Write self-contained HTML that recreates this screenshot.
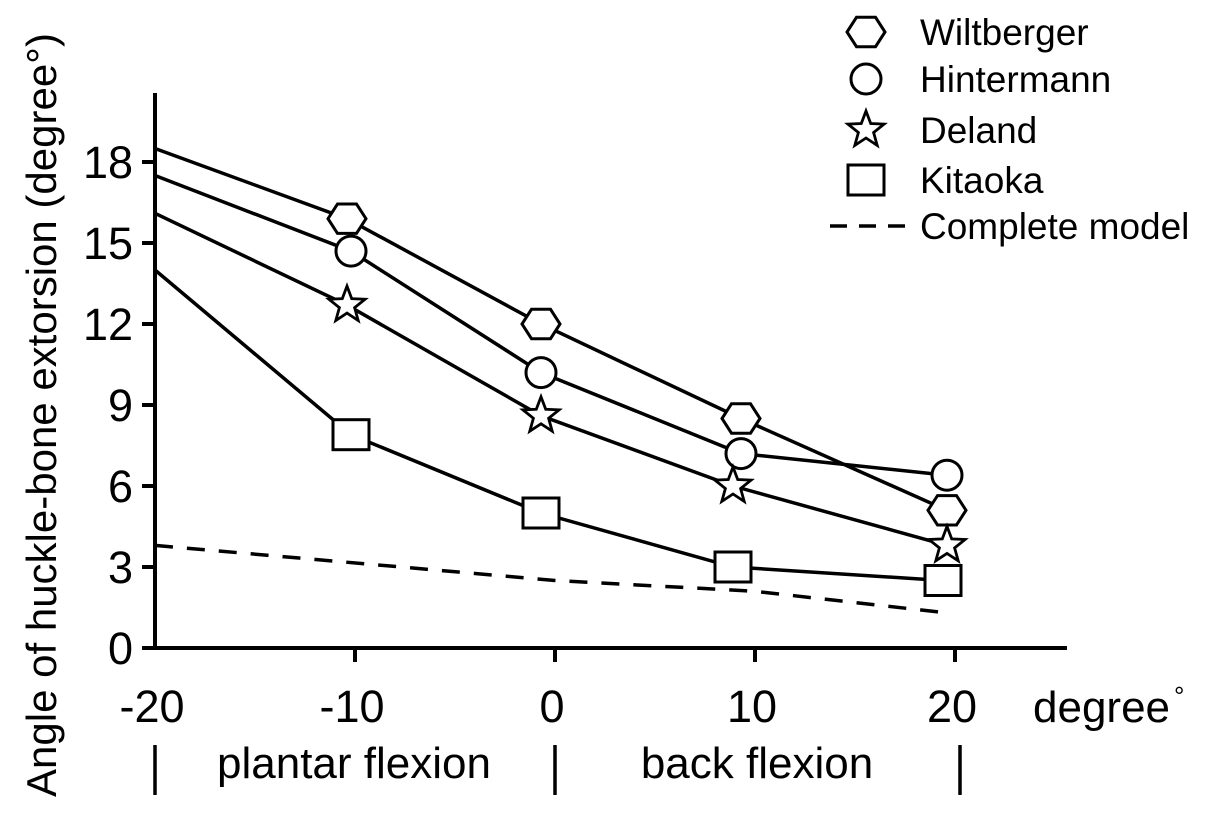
<!DOCTYPE html>
<html><head><meta charset="utf-8"><style>
html,body{margin:0;padding:0;background:#fff;}
svg{display:block;font-family:"Liberation Sans",Arial,sans-serif;}
</style></head><body>
<svg id="chart" width="1205" height="815" viewBox="0 0 1205 815"></svg>
<script>
const xTicks=[-20,-10,0,10,20];
const yTicks=[0,3,6,9,12,15,18];
const seriesNames=["Wiltberger","Hintermann","Deland","Kitaoka"];
const xsWilt=[-20,-10.4,-0.7,9.3,19.6];
const ysWilt=[18.5,15.9,12.0,8.5,5.1];
const xsHint=[-20,-10.2,-0.7,9.3,19.6];
const ysHint=[17.5,14.7,10.2,7.2,6.4];
const xsDel=[-20,-10.4,-0.7,8.9,19.6];
const ysDel=[16.1,12.7,8.6,6.0,3.8];
const xsKit=[-20,-10.2,-0.7,8.9,19.4];
const ysKit=[14.0,7.9,5.0,3.0,2.5];
const xsModel=[-20,0,10,19.6];
const ysModel=[3.8,2.5,2.1,1.3];

const svg=document.getElementById('chart');
const NS='http://www.w3.org/2000/svg';
const X=v=>555+v*20;
const Y=v=>648-v*27;
function el(t,a,p){const e=document.createElementNS(NS,t);for(const k in a)e.setAttribute(k,a[k]);(p||svg).appendChild(e);return e;}

let ax=el('line',{x1:155,y1:93,x2:155,y2:648,stroke:'#000','stroke-width':4});


ax=el('line',{x1:153,y1:648,x2:1067,y2:648,stroke:'#000','stroke-width':4});


yTicks.forEach(v=>{
  const t=el('line',{x1:142,y1:Y(v),x2:155,y2:Y(v),stroke:'#000','stroke-width':4});
  
  
  const l=el('text',{x:133,y:Y(v)+16,'text-anchor':'end','font-size':45});
  l.textContent=v;
  
  
});
xTicks.forEach(v=>{
  if(v>-20){const t=el('line',{x1:X(v),y1:648,x2:X(v),y2:662,stroke:'#000','stroke-width':4});
  
  }
  const l=el('text',{x:X(v)-3,y:722,'text-anchor':'middle','font-size':45});
  l.textContent=v;
  
  
});
[-20,0,20].forEach(v=>{
  const b=el('line',{x1:X(v)+(v==20?5:0),y1:745,x2:X(v)+(v==20?5:0),y2:795,stroke:'#000','stroke-width':3.5});
  
  
});
let t=el('text',{x:354,y:778,'text-anchor':'middle','font-size':44});t.textContent='plantar flexion';


t=el('text',{x:757,y:778,'text-anchor':'middle','font-size':44});t.textContent='back flexion';


t=el('text',{x:1033,y:722,'font-size':44});t.textContent='degree';


t=el('text',{x:1174,y:705,'font-size':26});t.textContent='°';


t=el('text',{x:0,y:0,'text-anchor':'middle','font-size':42,transform:'translate(56,415) rotate(-90)'});t.textContent='Angle of huckle-bone extorsion (degree°)';



function marker(type,cx,cy){
  const a={fill:'#fff',stroke:'#000','stroke-width':3};
  let m;
  if(type==0){const p=[];for(let i=0;i<6;i++){const an=Math.PI/3*i;p.push((cx+19*Math.cos(an)).toFixed(1)+','+(cy+17*Math.sin(an)).toFixed(1));}a.points=p.join(' ');m=el('polygon',a);}
  else if(type==1){a.cx=cx;a.cy=cy;a.r=15;m=el('circle',a);}
  else if(type==2){const p=[];for(let i=0;i<10;i++){const an=-Math.PI/2+Math.PI/5*i;const r=i%2?8:19;p.push((cx+r*Math.cos(an)).toFixed(1)+','+(cy+r*Math.sin(an)).toFixed(1));}a.points=p.join(' ');a['stroke-width']=2.8;m=el('polygon',a);}
  else {a.x=cx-18;a.y=cy-15;a.width=36;a.height=30;m=el('rect',a);}
  return m;
}
const all=[[xsWilt,ysWilt],[xsHint,ysHint],[xsDel,ysDel],[xsKit,ysKit]];
all.forEach((s,si)=>{
  const pts=s[0].map((x,i)=>X(x)+','+Y(s[1][i])).join(' ');
  const l=el('polyline',{points:pts,fill:'none',stroke:'#000','stroke-width':3.5});
  
  
});
all.forEach((s,si)=>{
  s[0].forEach((x,i)=>{if(i==0)return;
    const m=marker(si,X(x),Y(s[1][i]));
    
    
  });
});
const dl=el('polyline',{points:xsModel.map((x,i)=>X(x)+','+Y(ysModel[i])).join(' '),fill:'none',stroke:'#000','stroke-width':3.5,'stroke-dasharray':'18,14'});



const legY=[32,79,130,180];
seriesNames.forEach((n,i)=>{
  const m=marker(i,866,legY[i]);
  
  
  const tx=el('text',{x:920,y:legY[i]+13,'font-size':37});tx.textContent=n;
  
  
});
const ll=el('line',{x1:830,y1:226,x2:905,y2:226,stroke:'#000','stroke-width':3.5,'stroke-dasharray':'17,12'});


const lt=el('text',{x:920,y:239,'font-size':37});lt.textContent='Complete model';


</script>
</body></html>
